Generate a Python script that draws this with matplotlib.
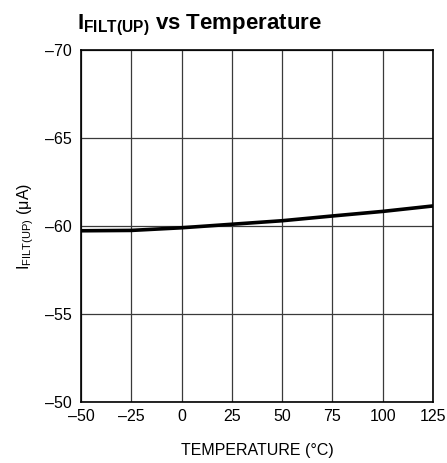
import matplotlib

matplotlib.use("Agg")
import matplotlib.pyplot as plt

temperature = [-50, -25, 0, 25, 50, 75, 100, 125]
i_filt_up = [-59.73, -59.75, -59.9, -60.1, -60.3, -60.57, -60.83, -61.14]

x_ticks = [-50, -25, 0, 25, 50, 75, 100, 125]
y_ticks = [-70, -65, -60, -55, -50]

plt.rcParams["font.family"] = ["Liberation Sans", "DejaVu Sans"]
plt.rcParams["mathtext.fontset"] = "custom"
plt.rcParams["mathtext.rm"] = "Liberation Sans"
plt.rcParams["mathtext.it"] = "Liberation Sans"
plt.rcParams["mathtext.bf"] = "Liberation Sans:bold"
plt.rcParams["mathtext.default"] = "rm"


def dash(v):
    return str(v).replace("-", "\u2013")


fig = plt.figure(figsize=(4.47, 4.63), dpi=100)
ax = fig.add_axes([0.1812, 0.1317, 0.7875, 0.7603])

ax.plot(temperature, i_filt_up, color="black", linewidth=2.6, solid_capstyle="butt")

ax.set_xlim(-50, 125)
ax.set_ylim(-50, -70)
ax.set_xticks(x_ticks)
ax.set_yticks(y_ticks)
ax.set_xticklabels([dash(t) for t in x_ticks], fontsize=11.5)
ax.set_yticklabels([dash(t) for t in y_ticks], fontsize=11.5)
ax.tick_params(axis="x", length=0, pad=5)
ax.tick_params(axis="y", length=0, pad=7)
ax.grid(True, color="#3a3a3a", linewidth=0.9)
for s in ax.spines.values():
    s.set_linewidth(1.2)

ax.set_xlabel("TEMPERATURE (\u00b0C)", fontsize=11.5, labelpad=14)
ax.set_ylabel(r"I$_{\mathrm{FILT(UP)}}$ ($\mu$A)", fontsize=11.5, labelpad=6)

fig.text(0.172, 0.945, r"$\mathbf{I}_{\mathbf{FILT(UP)}}$ vs Temperature",
         fontsize=16, fontweight="bold", ha="left", va="center")

fig.savefig("out.png", dpi=100)
